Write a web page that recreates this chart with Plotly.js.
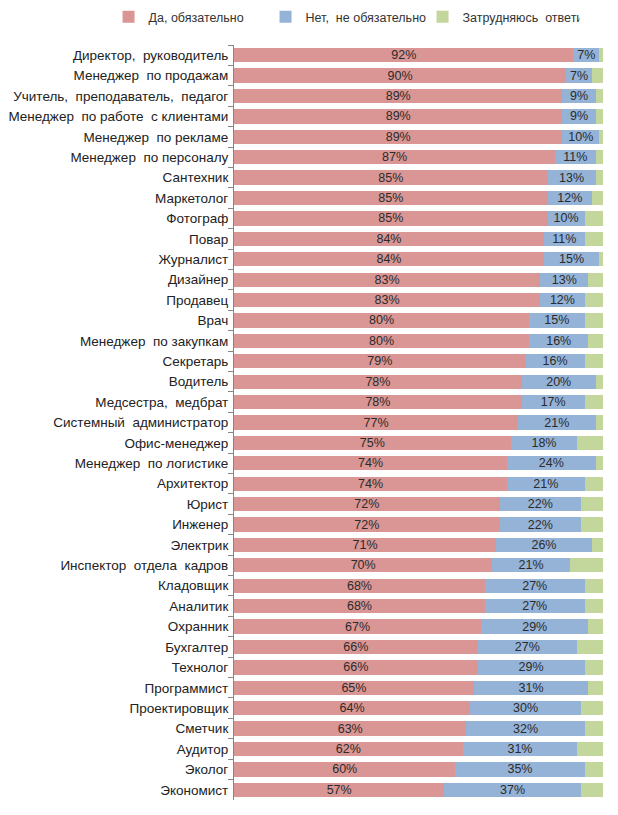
<!DOCTYPE html>
<html>
<head>
<meta charset="utf-8">
<script src="https://cdn.plot.ly/plotly-3.0.1.min.js"></script>
<style>html,body{margin:0;padding:0;background:#fff;}#chart{width:618px;height:815px;}</style>
</head>
<body>
<div id="chart"></div>
<script>
const categories = [
  "Директор,  руководитель","Менеджер  по продажам","Учитель,  преподаватель,  педагог",
  "Менеджер  по работе  с клиентами","Менеджер  по рекламе","Менеджер  по персоналу",
  "Сантехник","Маркетолог","Фотограф","Повар","Журналист","Дизайнер","Продавец","Врач",
  "Менеджер  по закупкам","Секретарь","Водитель","Медсестра,  медбрат","Системный  администратор",
  "Офис-менеджер","Менеджер  по логистике","Архитектор","Юрист","Инженер","Электрик",
  "Инспектор  отдела  кадров","Кладовщик","Аналитик","Охранник","Бухгалтер","Технолог",
  "Программист","Проектировщик","Сметчик","Аудитор","Эколог","Экономист"
];
const yes = [92,90,89,89,89,87,85,85,85,84,84,83,83,80,80,79,78,78,77,75,74,74,72,72,71,70,68,68,67,66,66,65,64,63,62,60,57];
const no  = [7,7,9,9,10,11,13,12,10,11,15,13,12,15,16,16,20,17,21,18,24,21,22,22,26,21,27,27,29,27,29,31,30,32,31,35,37];
const unsure = [1,3,2,2,1,2,2,3,5,5,1,4,5,5,4,5,2,5,2,7,2,5,6,6,3,9,5,5,4,7,5,4,6,5,7,5,6];
const seriesNames = ["Да, обязательно","Нет,  не обязательно","Затрудняюсь  ответить"];

const font = "Liberation Sans, Arial, sans-serif";
const mk = (vals, name, color, showText) => ({
  type: "bar", orientation: "h", y: categories, x: vals, name: name,
  marker: {color: color},
  text: showText ? vals.map(v => v + "%") : undefined,
  textposition: showText ? "inside" : "none",
  insidetextanchor: "middle",
  constraintext: "none",
  textfont: {family: font, size: 12.5, color: "#2b2b2b"},
  hoverinfo: "x+y+name"
});
const data = [
  mk(yes, seriesNames[0], "#d99694", true),
  mk(no, seriesNames[1], "#95b3d7", true),
  mk(unsure, seriesNames[2], "#c3d69b", false)
];
const layout = {
  width: 618, height: 815,
  margin: {l: 234, r: 15, t: 45, b: 15, autoexpand: false},
  barmode: "stack", bargap: 0.3,
  paper_bgcolor: "#fff", plot_bgcolor: "#fff",
  font: {family: font, size: 12, color: "#333"},
  showlegend: true,
  legend: {orientation: "h", xref: "paper", yref: "paper",
           x: -0.34, xanchor: "left", y: 1.037, yanchor: "middle",
           font: {family: font, size: 12.5, color: "#333"}, traceorder: "normal",
           itemwidth: 30, entrywidth: 112, entrywidthmode: "pixels", tracegroupgap: 0},
  xaxis: {range: [0, 100], showgrid: false, zeroline: false, showticklabels: false, ticks: "", showline: false, fixedrange: true},
  yaxis: {autorange: "reversed", type: "category", showgrid: false, zeroline: false,
          showline: true, linecolor: "#868686", linewidth: 1,
          ticks: "outside", ticklen: 5, tickcolor: "#868686", tickson: "boundaries",
          tickfont: {family: font, size: 13.5, color: "#222"}, ticklabelstandoff: 2}
};
Plotly.newPlot("chart", data, layout, {displayModeBar: false, staticPlot: true});
</script>
</body>
</html>
